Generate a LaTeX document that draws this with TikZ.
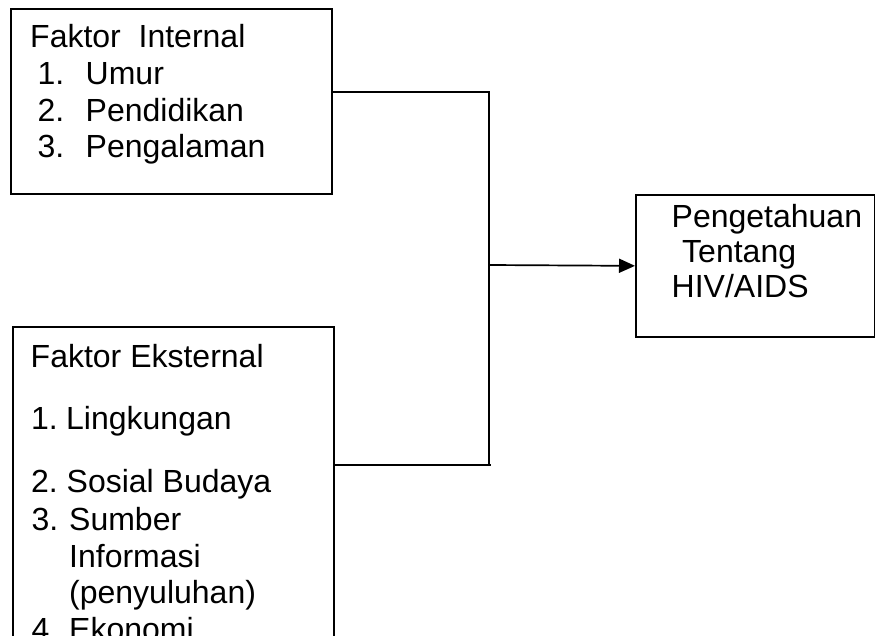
\documentclass[tikz,border=0pt]{standalone}
\usepackage{fontspec}
\setmainfont{Liberation Sans}
\usetikzlibrary{arrows.meta}
\begin{document}
\begin{tikzpicture}[x=1pt,y=-1pt,
  boxstyle/.style={draw=black,line width=1.7pt,inner sep=0pt,anchor=north west},
  txt/.style={anchor=base west,inner sep=0pt,font=\fontsize{32}{37}\selectfont},
  conn/.style={draw=black,line width=1.7pt},
  arr/.style={conn,-{Triangle[length=16pt,width=14pt]}}]
\useasboundingbox (0,0) rectangle (875,636);
\clip (0,0) rectangle (875,636);
% boxes
\node[boxstyle,minimum width=321pt,minimum height=185pt] (b1) at (10,8) {};
\node[boxstyle,minimum width=321pt,minimum height=400pt] (b2) at (12,326) {};
\node[boxstyle,minimum width=239pt,minimum height=142pt] (b3) at (635,194) {};
% box 1 texts
\node[txt] (i0) at (30,48) {Faktor\ \ Internal};
\node[txt] (i1n) at (37.5,85) {1.};
\node[txt] (i1) at (85.5,85) {Umur};
\node[txt] (i2n) at (37.5,122) {2.};
\node[txt] (i2) at (85.5,122) {Pendidikan};
\node[txt] (i3n) at (37.5,158) {3.};
\node[txt] (i3) at (85.5,158) {Pengalaman};
% box 2 texts
\node[txt] (e0) at (30.5,367) {Faktor Eksternal};
\node[txt] (e1n) at (31,429) {1.};
\node[txt] (e1) at (66,429) {Lingkungan};
\node[txt] (e2n) at (31,492) {2.};
\node[txt] (e2) at (66.5,492) {Sosial Budaya};
\node[txt] (e3n) at (31.5,530) {3.};
\node[txt] (e3) at (69,530) {Sumber};
\node[txt] (e3b) at (69,567) {Informasi};
\node[txt] (e3c) at (69,603) {(penyuluhan)};
\node[txt] (e4n) at (31.5,640) {4.};
\node[txt] (e4) at (69,640) {Ekonomi};
% box 3 texts
\node[txt] (p1) at (671.5,228) {Pengetahuan};
\node[txt] (p2) at (682,263) {Tentang};
\node[txt] (p3) at (671.5,298) {HIV/AIDS};
% connectors
\coordinate (j1) at (489,92);
\coordinate (j2) at (489,465);
\coordinate (j3) at (489,265);
\draw[conn] (b1.east |- j1) -- (j1) -- (j2);
\draw[conn] (b2.east |- j2) -- ([xshift=2pt]j2);
\draw[arr] (j3) -- (b3.west);
\end{tikzpicture}
\end{document}
